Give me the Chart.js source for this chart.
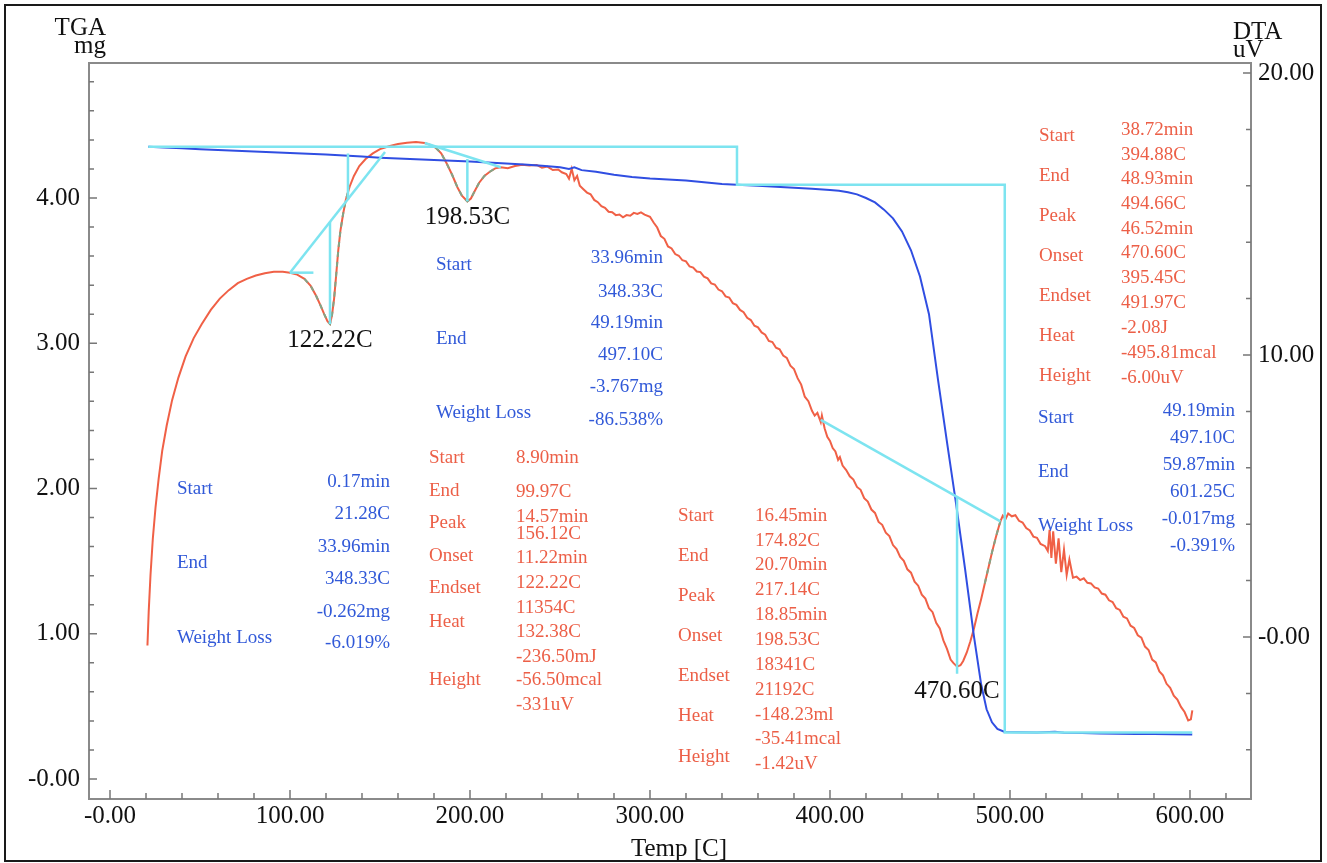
<!DOCTYPE html>
<html>
<head>
<meta charset="utf-8">
<title>TGA / DTA</title>
<script src="https://cdn.jsdelivr.net/npm/chart.js@4.4.0/dist/chart.umd.min.js"></script>
<style>
  html, body { margin: 0; padding: 0; background: #fff; }
  canvas { display: block; }
</style>
</head>
<body>
<canvas id="thermo" width="1327" height="863"></canvas>
<script>
// ---- measured curves ----
const dtaTemp = [
  20.8, 21.5, 22.5, 23.8, 25.3, 27.0, 29.0, 31.5, 34.5, 38.0,
  42.0, 46.5, 51.0, 56.0, 61.0, 66.0, 71.0, 76.0, 81.0, 86.0,
  91.0, 96.0, 99.97, 104.0, 108.0, 111.5, 114.5, 117.0, 119.0, 120.8,
  122.22, 123.3, 124.5, 125.6, 126.8, 128.0, 129.5, 131.0, 133.0, 135.5,
  138.5, 142.0, 146.0, 150.0, 155.0, 160.0, 165.0, 170.0, 174.82, 178.0,
  181.0, 184.0, 187.0, 190.0, 193.0, 195.5, 198.53, 200.5, 202.5, 205.0,
  208.0, 211.0, 214.0, 217.14, 221.0, 225.0, 229.0, 233.0, 237.0, 240.0,
  243.0, 246.0, 249.0, 251.0, 253.5, 255.0, 256.5, 258.0, 259.5, 261.0,
  263.0, 265.0, 267.0, 269.0, 271.0, 273.0, 275.0, 277.0, 279.0, 281.0,
  283.0, 285.0, 287.0, 289.0, 291.0, 293.0, 295.0, 297.0, 300.0, 302.0,
  304.0, 306.0, 308.0, 310.0, 312.0, 314.0, 316.0, 318.0, 320.0, 322.0,
  324.0, 326.0, 328.0, 330.0, 332.0, 334.0, 336.0, 338.0, 340.0, 342.0,
  344.0, 346.0, 348.0, 350.0, 352.0, 354.0, 356.0, 358.0, 360.0, 362.0,
  364.0, 366.0, 368.0, 370.0, 372.0, 374.0, 376.0, 378.0, 380.0, 382.0,
  384.0, 386.0, 388.0, 390.0, 391.5, 393.0, 394.88, 395.5, 397.0, 398.5,
  400.0, 401.5, 403.0, 404.5, 405.5, 407.0, 409.0, 411.0, 413.0, 415.0,
  417.0, 419.0, 421.0, 423.0, 425.0, 427.0, 429.0, 431.0, 433.0, 435.0,
  437.0, 439.0, 441.0, 443.0, 445.0, 447.0, 449.0, 451.0, 453.0, 455.0,
  457.0, 459.0, 461.0, 463.0, 465.0, 467.0, 468.5, 470.60, 472.5, 474.0,
  476.0, 478.0, 480.0, 482.0, 484.0, 486.0, 488.0, 490.0, 492.0, 493.5,
  494.66, 496.0, 497.5, 499.0, 501.0, 503.0, 505.0, 507.0, 509.0, 511.0,
  513.0, 515.0, 517.0, 519.5, 521.0, 522.0, 523.0, 524.0, 525.5, 527.0,
  528.5, 530.0, 531.5, 533.0, 535.0, 537.0, 539.0, 541.0, 543.0, 545.0,
  547.0, 549.0, 551.0, 553.0, 555.0, 557.0, 559.0, 561.0, 563.0, 565.0,
  567.0, 569.0, 571.0, 573.0, 575.0, 577.0, 579.0, 581.0, 583.0, 585.0,
  587.0, 589.0, 591.0, 593.0, 595.0, 597.0, 599.0, 600.5, 601.3
];
const dtaSignal = [
  -0.3, 0.9, 2.2, 3.5, 4.6, 5.6, 6.6, 7.5, 8.4, 9.2,
  9.95, 10.6, 11.1, 11.6, 12.0, 12.3, 12.55, 12.7, 12.82, 12.9,
  12.95, 12.95, 12.92, 12.85, 12.7, 12.45, 12.1, 11.75, 11.45, 11.2,
  11.1, 11.4, 12.0, 12.8, 13.7, 14.4, 15.0, 15.5, 15.95, 16.35,
  16.7, 16.95, 17.15, 17.3, 17.4, 17.48, 17.53, 17.55, 17.52, 17.45,
  17.35, 17.15, 16.8, 16.4, 15.95, 15.65, 15.45, 15.55, 15.8, 16.1,
  16.35, 16.5, 16.62, 16.66, 16.62, 16.7, 16.75, 16.72, 16.74, 16.64,
  16.68, 16.56, 16.58, 16.48, 16.42, 16.25, 16.6, 16.2, 16.35, 16.0,
  15.88, 15.76, 15.7, 15.5, 15.42, 15.28, 15.22, 15.08, 15.06, 14.96,
  14.98, 14.88, 14.96, 14.94, 15.04, 15.0, 15.06, 14.98, 14.9, 14.7,
  14.52, 14.22, 14.12, 13.85, 13.78, 13.58, 13.52, 13.36, 13.32, 13.14,
  13.1, 12.96, 12.94, 12.78, 12.72, 12.54, 12.5, 12.32, 12.26, 12.08,
  12.04, 11.84, 11.78, 11.6, 11.52, 11.32, 11.24, 11.04, 10.98, 10.8,
  10.72, 10.5, 10.46, 10.26, 10.2, 9.98, 9.9, 9.62, 9.5, 9.18,
  8.95, 8.52, 8.36, 8.02, 7.85, 7.95, 7.62, 7.85, 7.4, 7.1,
  6.95, 6.7, 6.58, 6.28, 6.38, 6.08, 5.92, 5.7, 5.58, 5.32,
  5.22, 4.92, 4.8, 4.52, 4.4, 4.08, 3.98, 3.7, 3.58, 3.26,
  3.12, 2.84, 2.7, 2.4, 2.28, 1.96, 1.82, 1.5, 1.36, 1.02,
  0.88, 0.5, 0.3, -0.12, -0.42, -0.8, -0.92, -1.05, -1.0, -0.85,
  -0.55, -0.15, 0.3, 0.85, 1.35, 1.9, 2.45, 3.0, 3.5, 3.85,
  4.1, 4.3, 4.18, 4.38, 4.28, 4.32, 4.12, 4.06, 3.86, 3.78,
  3.56, 3.52, 3.3, 3.22, 3.05, 3.8, 2.8, 3.75, 2.6, 3.5,
  2.3, 3.1, 2.2, 2.75, 2.1, 2.14, 2.02, 2.08, 1.92, 1.9,
  1.76, 1.72, 1.54, 1.5, 1.3, 1.24, 1.02, 0.96, 0.72, 0.66,
  0.4, 0.32, 0.06, -0.02, -0.34, -0.46, -0.8, -0.9, -1.22, -1.36,
  -1.66, -1.8, -2.08, -2.22, -2.48, -2.66, -2.96, -2.92, -2.6
];

const tgaTemp = [
  21.28, 30, 40, 50, 60, 70, 80, 90, 100, 110, 120, 130, 140, 150, 160, 170, 180, 190, 200,
  210, 220, 230, 240, 250, 255, 258, 262, 270, 280, 290, 300, 310, 320, 330, 340, 348.33, 360,
  370, 380, 390, 400, 405, 410, 415, 420, 425, 430, 435, 440, 445, 450, 455, 460, 465, 470,
  475, 480, 484, 487, 490, 493, 497.10, 505, 515, 525, 530, 540, 550, 560, 570, 580, 590, 601.25
];
const tgaMass = [
  4.353, 4.348, 4.342, 4.336, 4.33, 4.325, 4.32, 4.315, 4.31, 4.305, 4.30, 4.292, 4.285, 4.278,
  4.272, 4.266, 4.262, 4.257, 4.252, 4.245, 4.238, 4.23, 4.222, 4.212, 4.2, 4.212, 4.192, 4.18,
  4.16, 4.145, 4.135, 4.128, 4.12, 4.108, 4.097, 4.091, 4.084, 4.078, 4.07, 4.063, 4.055, 4.05,
  4.04, 4.025, 4.0, 3.97, 3.92, 3.86, 3.77, 3.64, 3.46, 3.2, 2.75, 2.32, 1.9, 1.45, 0.98, 0.65,
  0.48, 0.39, 0.345, 0.324, 0.322, 0.32, 0.325, 0.318, 0.317, 0.314, 0.312, 0.31, 0.309, 0.308, 0.307
];

// ---- analysis construction lines ----
const tgaStepTemp = [21.28, 348.33, 348.33, 497.10, 497.10, 601.25];
const tgaStepMass = [4.353, 4.353, 4.091, 4.091, 0.32, 0.32];

const peakBaseTemp = [[99.97, 152.8], [99.97, 113.0], [174.82, 217.14], [394.88, 494.66]];
const peakBaseUv = [[12.92, 17.2], [12.92, 12.92], [17.52, 16.66], [7.7, 4.1]];
const peakDropTemp = [122.22, 132.2, 198.53, 470.60];
const peakDropUv = [[14.72, 11.1], [17.15, 15.5], [16.95, 15.45], [4.97, -1.3]];
const peakSpans = [[106, 134], [181, 216], [486, 494.66]];

// ---- axis ticks ----
const tempTicks = [0, 100, 200, 300, 400, 500, 600];
const massTicks = [0, 1, 2, 3, 4];
const signalTicks = [0, 10, 20];

// ---- result tables ----
const peakTemps = [122.22, 198.53, 470.60];
const stepNames = ['Start', 'End', 'Weight Loss'];
const step1Values = ['0.17min', '21.28C', '33.96min', '348.33C', '-0.262mg', '-6.019%'];
const step2Values = ['33.96min', '348.33C', '49.19min', '497.10C', '-3.767mg', '-86.538%'];
const step3Values = ['49.19min', '497.10C', '59.87min', '601.25C', '-0.017mg', '-0.391%'];
const peakNames = ['Start', 'End', 'Peak', 'Onset', 'Endset', 'Heat', 'Height'];
const peak1Values = ['8.90min', '99.97C', '14.57min', '156.12C', '11.22min', '122.22C', '11354C',
  '132.38C', '-236.50mJ', '-56.50mcal', '-331uV'];
const peak2Values = ['16.45min', '174.82C', '20.70min', '217.14C', '18.85min', '198.53C', '18341C',
  '21192C', '-148.23ml', '-35.41mcal', '-1.42uV'];
const peak3Values = ['38.72min', '394.88C', '48.93min', '494.66C', '46.52min', '470.60C', '395.45C',
  '491.97C', '-2.08J', '-495.81mcal', '-6.00uV'];

// ---- styling ----
const serif = '"Liberation Serif", "Times New Roman", serif';
const axisGray = '#8a8a8a';
const cyan = 'rgb(125, 228, 240)';
const tgaBlue = 'rgb(48, 78, 226)';
const dtaRed = 'rgb(240, 96, 70)';
const blueText = '#3159d8';
const redText = '#ec5f47';
const ink = '#111';

const pts = (temps, vals) => temps.map((t, i) => ({ x: t, y: vals[i] }));
const dtaPoints = pts(dtaTemp, dtaSignal);
const fmt = v => (v === 0 ? '-0.00' : Number(v).toFixed(2));

function column(ctx, texts, x, ys, color, align) {
  ctx.fillStyle = color;
  ctx.textAlign = align;
  texts.forEach((t, i) => ctx.fillText(t, x, ys[i]));
}

const decorations = {
  id: 'decorations',
  beforeDraw(chart) {
    const ctx = chart.ctx;
    ctx.save();
    ctx.fillStyle = '#fff';
    ctx.fillRect(0, 0, chart.width, chart.height);
    ctx.restore();
  },
  afterDraw(chart) {
    const { ctx, chartArea: a, scales } = chart;
    const xs = scales.x, yl = scales.yTGA, yr = scales.yDTA;
    ctx.save();

    // top edge of the plot frame
    ctx.strokeStyle = axisGray;
    ctx.lineWidth = 2;
    ctx.beginPath();
    ctx.moveTo(a.left, a.top);
    ctx.lineTo(a.right, a.top);
    ctx.stroke();

    // inward tick marks, major and minor
    ctx.lineWidth = 1.5;
    ctx.strokeStyle = '#777';
    ctx.beginPath();
    for (let i = 0; i <= 31; i++) {
      const px = xs.getPixelForValue(i * 20);
      const len = i % 5 === 0 ? 9 : 6;
      ctx.moveTo(px, a.bottom);
      ctx.lineTo(px, a.bottom - len);
    }
    for (let i = 0; i <= 24; i++) {
      const py = yl.getPixelForValue(i / 5);
      const len = i % 5 === 0 ? 8 : 5;
      ctx.moveTo(a.left, py);
      ctx.lineTo(a.left + len, py);
    }
    for (let i = -2; i <= 10; i++) {
      const py = yr.getPixelForValue(i * 2);
      const len = i % 5 === 0 ? 8 : 5;
      ctx.moveTo(a.right, py);
      ctx.lineTo(a.right - len, py);
    }
    ctx.stroke();

    // axis titles
    ctx.font = '25px ' + serif;
    ctx.fillStyle = ink;
    ctx.textBaseline = 'alphabetic';
    ctx.textAlign = 'right';
    ctx.fillText('TGA', 106, 35);
    ctx.fillText('mg', 106, 53);
    ctx.textAlign = 'left';
    ctx.fillText('DTA', 1233, 39);
    ctx.fillText('uV', 1233, 57);
    ctx.textAlign = 'center';
    ctx.fillText('Temp [C]', 679, 856);

    // peak temperatures under each DTA minimum
    ctx.textBaseline = 'middle';
    const drop = [16, 16, 25];
    peakTemps.forEach((t, i) => {
      const v = dtaSignal[dtaTemp.indexOf(t)];
      ctx.fillText(t.toFixed(2) + 'C', xs.getPixelForValue(t), yr.getPixelForValue(v) + drop[i]);
    });

    // result tables
    ctx.font = '19px ' + serif;
    column(ctx, stepNames, 177, [489, 563, 638], blueText, 'left');
    column(ctx, step1Values, 390, [482, 514, 547, 579, 612, 643], blueText, 'right');
    column(ctx, stepNames, 436, [265, 339, 413], blueText, 'left');
    column(ctx, step2Values, 663, [258, 292, 323, 355, 387, 420], blueText, 'right');
    column(ctx, stepNames, 1038, [418, 472, 526], blueText, 'left');
    column(ctx, step3Values, 1235, [411, 438, 465, 492, 519, 546], blueText, 'right');

    column(ctx, peakNames, 429, [458, 491, 523, 556, 588, 622, 680], redText, 'left');
    column(ctx, peak1Values, 516, [458, 492, 517, 534, 558, 583, 608, 632, 657, 680, 705], redText, 'left');
    column(ctx, peakNames, 678, [516, 556, 596, 636, 676, 716, 757], redText, 'left');
    column(ctx, peak2Values, 755, [516, 541, 565, 590, 615, 640, 665, 690, 715, 739, 764], redText, 'left');
    column(ctx, peakNames, 1039, [136, 176, 216, 256, 296, 336, 376], redText, 'left');
    column(ctx, peak3Values, 1121, [130, 155, 179, 204, 229, 253, 278, 303, 328, 353, 378], redText, 'left');

    // outer frame
    ctx.strokeStyle = '#1a1a1a';
    ctx.lineWidth = 2;
    ctx.strokeRect(5, 5, 1316, 856);
    ctx.restore();
  }
};

const tickFont = { family: serif, size: 25 };

const datasets = [
  { data: pts(tgaStepTemp, tgaStepMass), yAxisID: 'yTGA', borderColor: cyan, borderWidth: 2.5 },
  ...peakBaseTemp.map((t, i) => ({
    data: pts(t, peakBaseUv[i]), yAxisID: 'yDTA', borderColor: cyan, borderWidth: 2.5
  })),
  ...peakDropTemp.map((t, i) => ({
    data: pts([t, t], peakDropUv[i]), yAxisID: 'yDTA', borderColor: cyan, borderWidth: 2.5
  })),
  ...peakSpans.map(([lo, hi]) => ({
    data: dtaPoints.filter(p => p.x >= lo && p.x <= hi), yAxisID: 'yDTA',
    borderColor: 'rgb(130, 165, 135)', borderWidth: 2, borderDash: [5, 5]
  })),
  { data: pts(tgaTemp, tgaMass), yAxisID: 'yTGA', borderColor: tgaBlue, borderWidth: 2 },
  { data: dtaPoints, yAxisID: 'yDTA', borderColor: dtaRed, borderWidth: 2 }
];

new Chart(document.getElementById('thermo'), {
  type: 'line',
  data: { datasets: datasets },
  plugins: [decorations],
  options: {
    responsive: false,
    animation: false,
    devicePixelRatio: 1,
    layout: { padding: { top: 63, left: 0, right: 0, bottom: 0 } },
    elements: { point: { radius: 0 }, line: { tension: 0, fill: false } },
    plugins: { legend: { display: false }, tooltip: { enabled: false } },
    scales: {
      x: {
        type: 'linear',
        min: -11.67,
        max: 633.9,
        afterBuildTicks: s => { s.ticks = tempTicks.map(v => ({ value: v })); },
        afterFit: s => { s.height = 64; },
        ticks: { callback: fmt, font: tickFont, color: ink, padding: 2, autoSkip: false, maxRotation: 0 },
        grid: { display: false, drawTicks: false },
        border: { color: axisGray, width: 2 }
      },
      yTGA: {
        type: 'linear',
        position: 'left',
        min: -0.1377,
        max: 4.9295,
        afterBuildTicks: s => { s.ticks = massTicks.map(v => ({ value: v })); },
        afterFit: s => { s.width = 89; },
        ticks: { callback: fmt, font: tickFont, color: ink, padding: 9, autoSkip: false },
        grid: { display: false, drawTicks: false },
        border: { color: axisGray, width: 2 }
      },
      yDTA: {
        type: 'linear',
        position: 'right',
        min: -5.745,
        max: 20.355,
        afterBuildTicks: s => { s.ticks = signalTicks.map(v => ({ value: v })); },
        afterFit: s => { s.width = 76; },
        ticks: { callback: fmt, font: tickFont, color: ink, padding: 7, autoSkip: false },
        grid: { display: false, drawTicks: false },
        border: { color: axisGray, width: 2 }
      }
    }
  }
});
</script>
</body>
</html>
